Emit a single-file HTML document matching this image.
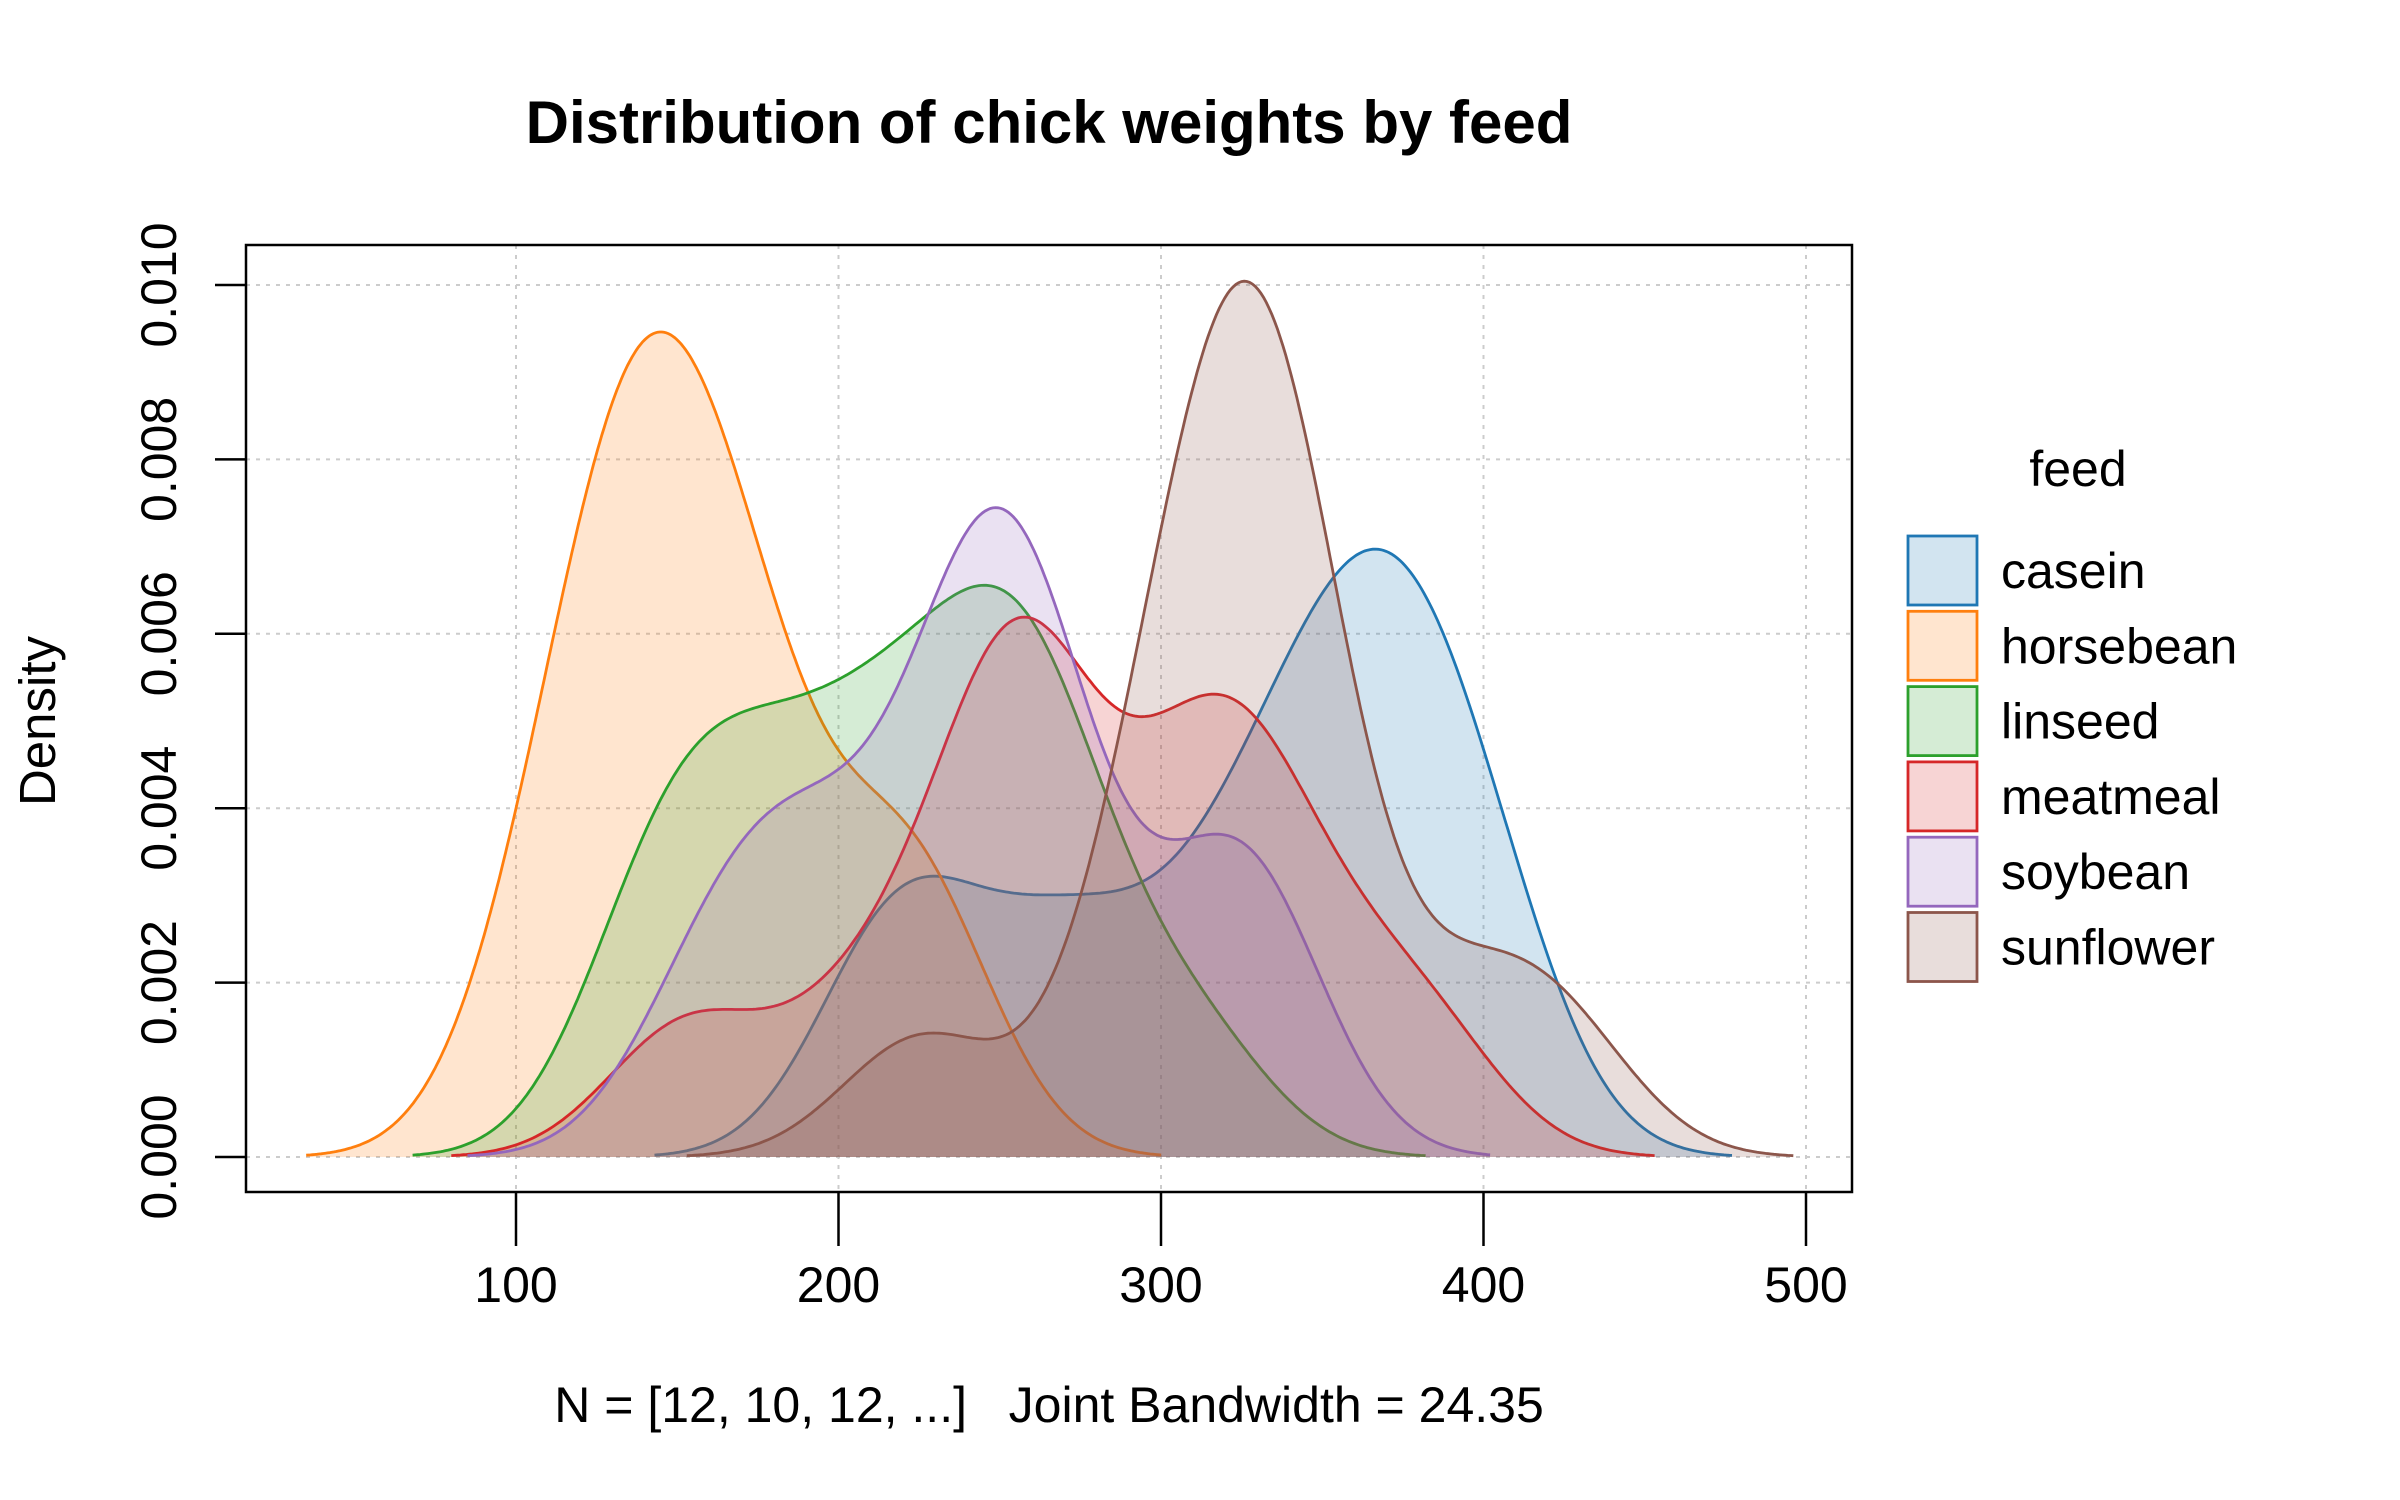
<!DOCTYPE html>
<html><head><meta charset="utf-8"><style>
html,body{margin:0;padding:0;background:#fff;}
svg{display:block;font-family:"Liberation Sans",sans-serif;}
</style></head><body>
<svg id="chart" width="2400" height="1500" viewBox="0 0 2400 1500">
<text x="1049" y="143" text-anchor="middle" font-size="60" font-weight="bold">Distribution of chick weights by feed</text>
<text x="1049" y="1422" text-anchor="middle" font-size="50" style="white-space:pre" xml:space="preserve">N = [12, 10, 12, ...]   Joint Bandwidth = 24.35</text>
<text transform="translate(55,721) rotate(-90)" text-anchor="middle" font-size="51">Density</text>
<g id="grid"></g><g id="series"></g><g id="axes"></g><g id="legend"></g>
</svg>
<script>
const groups = ["casein","horsebean","linseed","meatmeal","soybean","sunflower"];
const colors = ["#1f77b4","#ff7f0e","#2ca02c","#d62728","#9467bd","#8c564b"];
const casein = [368,390,379,260,404,318,352,359,216,222,283,332];
const horsebean = [179,160,136,227,217,168,108,124,143,140];
const linseed = [309,229,181,141,260,203,148,169,213,257,244,271];
const meatmeal = [325,257,303,315,380,153,263,242,206,344,258];
const soybean = [243,230,248,327,329,250,193,271,316,267,199,171,158,248];
const sunflower = [423,340,392,339,341,226,320,295,334,322,297,318];
const bandwidth = 24.35;
const xTicks = [100,200,300,400,500];
const yTicks = [0,0.002,0.004,0.006,0.008,0.010];
const yTickLabels = ["0.000","0.002","0.004","0.006","0.008","0.010"];

const NS="http://www.w3.org/2000/svg";
const L=246,R=1852,T=245,B=1192;
const xs=v=>516+(v-100)*(1806-516)/400;
const ys=v=>1157-v*(1157-285)/0.010;
function mk(tag,attrs,parent){const e=document.createElementNS(NS,tag);for(const k in attrs)e.setAttribute(k,attrs[k]);parent.appendChild(e);return e;}
const grid=document.getElementById('grid'),axes=document.getElementById('axes'),series=document.getElementById('series'),legend=document.getElementById('legend');
xTicks.forEach((t,i)=>{
 const g=mk('line',{x1:xs(t),x2:xs(t),y1:T,y2:B,stroke:'#cccccc','stroke-width':2,'stroke-dasharray':'4,6'},grid);
 
 
 const tk=mk('line',{x1:xs(t),x2:xs(t),y1:B,y2:B+54,stroke:'#000','stroke-width':2.5},axes);
 
 
 const tx=mk('text',{x:xs(t),y:1302,'text-anchor':'middle','font-size':50},axes);
 tx.textContent=t;
 
 
});
yTicks.forEach((t,i)=>{
 const g=mk('line',{x1:L,x2:R,y1:ys(t),y2:ys(t),stroke:'#cccccc','stroke-width':2,'stroke-dasharray':'4,6'},grid);
 
 
 const tk=mk('line',{x1:L-31,x2:L,y1:ys(t),y2:ys(t),stroke:'#000','stroke-width':2.5},axes);
 
 
 const tx=mk('text',{transform:`translate(176,${ys(t)}) rotate(-90)`,'text-anchor':'middle','font-size':50},axes);
 tx.textContent=yTickLabels[i];
 
 
});
const frame=mk('rect',{x:L,y:T,width:R-L,height:B-T,fill:'none',stroke:'#000','stroke-width':2.5},axes);


const dataSets=[casein,horsebean,linseed,meatmeal,soybean,sunflower];
dataSets.forEach((d,gi)=>{
 const lo=Math.min(...d)-3*bandwidth,hi=Math.max(...d)+3*bandwidth,n=400;
 let pts=[];
 for(let i=0;i<n;i++){const x=lo+(hi-lo)*i/(n-1);let s=0;d.forEach(v=>{const z=(x-v)/bandwidth;s+=Math.exp(-0.5*z*z);});s/=d.length*bandwidth*Math.sqrt(2*Math.PI);pts.push([xs(x),ys(s)]);}
 const line=pts.map((p,i)=>(i?'L':'M')+p[0].toFixed(1)+','+p[1].toFixed(1)).join('');
 const area=mk('path',{d:line+`L${pts[n-1][0].toFixed(1)},${ys(0)}L${pts[0][0].toFixed(1)},${ys(0)}Z`,fill:colors[gi],'fill-opacity':0.2,stroke:'none'},series);
 
 
 const ln=mk('path',{d:line,fill:'none',stroke:colors[gi],'stroke-width':2.8},series);
 
 
});
const lt=mk('text',{x:2078,y:486,'text-anchor':'middle','font-size':50},legend);
lt.textContent='feed';


groups.forEach((g,i)=>{
 const y=536+i*75.3;
 const r=mk('rect',{x:1908,y:y,width:69,height:69,fill:colors[i],'fill-opacity':0.2,stroke:colors[i],'stroke-width':2.8},legend);
 
 
 const t=mk('text',{x:2001,y:y+52,'font-size':50},legend);
 t.textContent=g;
 
 
});
</script>
</body></html>
